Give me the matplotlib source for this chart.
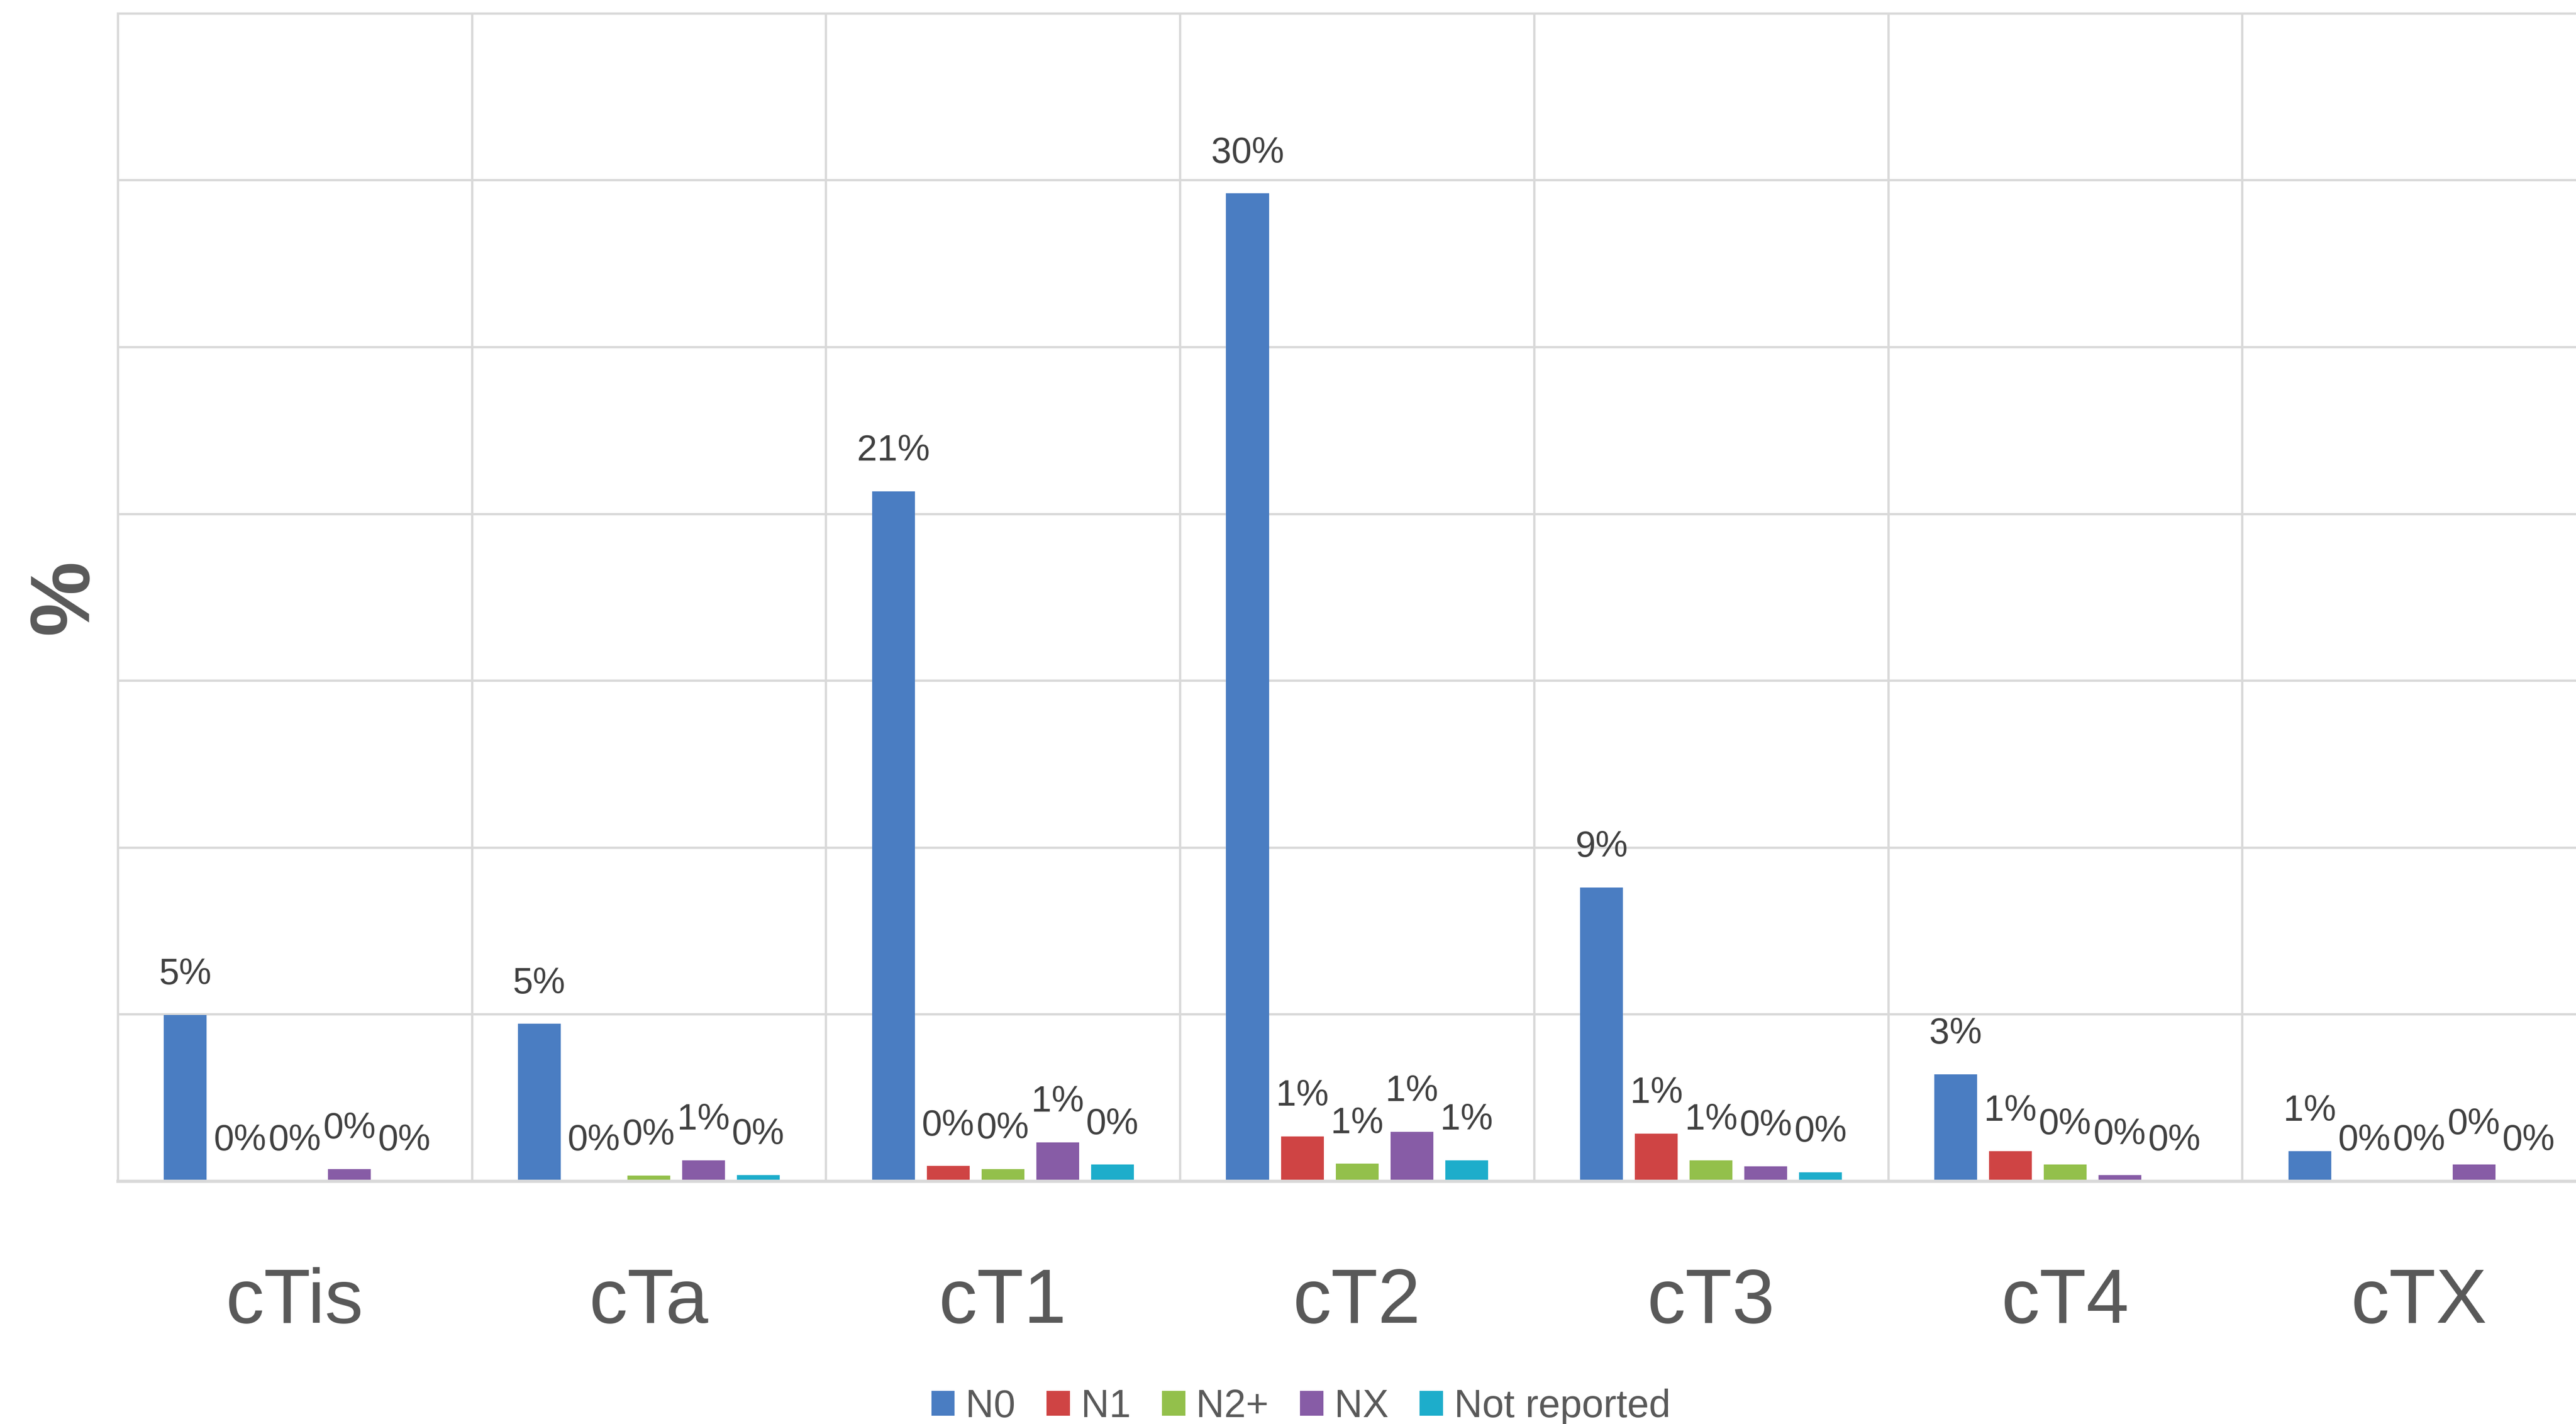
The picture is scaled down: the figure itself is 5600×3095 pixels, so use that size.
import numpy as np
import matplotlib
matplotlib.use("Agg")
import matplotlib.pyplot as plt

categories = ["cTis", "cTa", "cT1", "cT2", "cT3", "cT4", "cTX"]
series_names = ["N0", "N1", "N2+", "NX", "Not reported"]
n0 = [4.98, 4.71, 20.67, 29.6, 8.8, 3.2, 0.89]
n1 = [0.0, 0.0, 0.45, 1.34, 1.42, 0.89, 0.0]
n2p = [0.0, 0.17, 0.36, 0.52, 0.62, 0.49, 0.0]
nx = [0.36, 0.62, 1.16, 1.48, 0.44, 0.18, 0.49]
nrep = [0.0, 0.18, 0.49, 0.62, 0.26, 0.0, 0.0]
series_values = [n0, n1, n2p, nx, nrep]
colors = ["#4A7DC2", "#CF4444", "#93C04B", "#875CA6", "#1DADCB"]

fam = ["Liberation Sans", "DejaVu Sans"]
grid_c = "#D9D9D9"

fig = plt.figure(figsize=(56, 30.95), dpi=100)
ax = fig.add_axes([0.0457, 0.1706, 0.9622, 0.8201])

x = np.arange(len(categories))
step = 0.1546
width = 0.121
bars_list = []
for i, (name, vals, col) in enumerate(zip(series_names, series_values, colors)):
    pos = x + (i - 2) * step
    bars = ax.bar(pos, vals, width=width, color=col, label=name, zorder=3)
    bars_list.append(bars)
    for p, v in zip(pos, vals):
        ax.annotate(f"{int(np.floor(v + 0.5))}%", xy=(p, v), xytext=(0, 48),
                    textcoords="offset points", ha="center", va="baseline",
                    fontsize=57, color="#404040", family=fam, zorder=4)

ax.set_xlim(-0.5, len(categories) - 0.5)
ax.set_ylim(0, 35)
ax.set_yticks(np.arange(0, 36, 5))
ax.set_yticklabels([])
ax.tick_params(axis="y", length=0)
ax.set_xticks(x)
ax.set_xticklabels(categories, family=fam, fontsize=120, color="#595959")
ax.set_xticks(np.arange(-0.5, len(categories), 1), minor=True)
ax.tick_params(axis="x", which="both", length=0, pad=222)
for lbl in ax.get_xticklabels():
    lbl.set_va("baseline")
ax.grid(axis="y", which="major", color=grid_c, linewidth=3.6, zorder=0)
ax.grid(axis="x", which="minor", color=grid_c, linewidth=3.6, zorder=0)
ax.grid(axis="x", which="major", visible=False)
for s in ["top", "left"]:
    ax.spines[s].set_color(grid_c)
    ax.spines[s].set_linewidth(3.6)
ax.spines["right"].set_visible(False)
ax.spines["bottom"].set_color(grid_c)
ax.spines["bottom"].set_linewidth(5)
ax.spines["bottom"].set_zorder(5)

ax.set_ylabel("%", family=fam, fontsize=132, fontweight="bold", color="#595959")
ax.yaxis.label.set_va("center")
ax.yaxis.set_label_coords(-0.021, 0.5)

leg = fig.legend(handles=bars_list, labels=series_names, loc="center",
                 bbox_to_anchor=(0.505, 0.012), ncol=5, frameon=False,
                 prop={"family": fam, "size": 61}, handlelength=0.6,
                 handleheight=0.6, handletextpad=0.28, columnspacing=0.8,
                 borderaxespad=0, borderpad=0)
for t in leg.get_texts():
    t.set_color("#595959")

fig.savefig("out.png", dpi=100)
